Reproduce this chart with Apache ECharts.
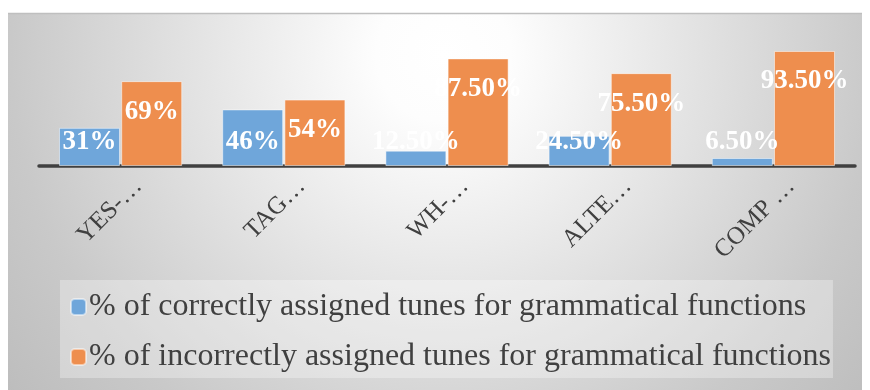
<!DOCTYPE html>
<html>
<head>
<meta charset="utf-8">
<script src="https://cdn.jsdelivr.net/npm/echarts@6/dist/echarts.min.js"></script>
<style>
  html, body { margin: 0; padding: 0; background: #ffffff; }
  #chart { width: 870px; height: 390px; }
</style>
</head>
<body>
<div id="chart"></div>
<script>
// Question types (labels as shown on the axis)
const categories = ['YES-…', 'TAG…', 'WH-…', 'ALTE…', 'COMP …'];

// Percentages per question type
const correctValues = [31, 46, 12.5, 24.5, 6.5];
const incorrectValues = [69, 54, 87.5, 75.5, 93.5];

const seriesNames = [
  '% of correctly assigned tunes for grammatical functions',
  '% of incorrectly assigned tunes for grammatical functions'
];

const SERIF = '"Liberation Serif", "Times New Roman", serif';

function pct(v) {
  return (Number.isInteger(v) ? String(v) : v.toFixed(2)) + '%';
}

const chart = echarts.init(document.getElementById('chart'), null, { renderer: 'canvas' });

const labelBase = {
  show: true,
  color: '#ffffff',
  fontFamily: SERIF,
  fontWeight: 'bold',
  fontSize: 27,
  formatter: p => pct(p.value)
};

chart.setOption({
  animation: false,
  backgroundColor: '#ffffff',
  graphic: [
    {
      type: 'rect',
      z: -10,
      silent: true,
      shape: { x: 8, y: 13, width: 854, height: 377 },
      style: {
        fill: new echarts.graphic.RadialGradient(0.51, 0.11, 1.49, [
          { offset: 0, color: '#ffffff' },
          { offset: 0.12, color: '#fdfdfd' },
          { offset: 0.77, color: '#c9c9c9' },
          { offset: 1, color: '#bcbcbc' }
        ])
      }
    },
    {
      type: 'line',
      z: -9,
      silent: true,
      shape: { x1: 8, y1: 13.5, x2: 862, y2: 13.5 },
      style: { stroke: '#bfbfbf', lineWidth: 1.5 }
    }
  ],
  grid: { left: 39, right: 15, top: 43, bottom: 224, containLabel: false },
  xAxis: {
    type: 'category',
    data: categories,
    offset: 1.75,
    axisLine: { show: true, lineStyle: { color: '#404040', width: 3.5 } },
    axisTick: { show: false },
    axisLabel: {
      rotate: 45,
      interval: 0,
      margin: -3,
      align: 'right',
      verticalAlign: 'top',
      lineHeight: 50,
      color: '#404040',
      fontFamily: SERIF,
      fontSize: 25
    }
  },
  yAxis: {
    type: 'value',
    min: 0,
    max: 100,
    show: false,
    splitLine: { show: false }
  },
  legend: {
    orient: 'vertical',
    left: 60,
    top: 280,
    padding: [11, 2, 5, 10],
    backgroundColor: 'rgba(255,255,255,0.3)',
    itemWidth: 15,
    itemHeight: 16,
    itemGap: 18,
    textStyle: { color: '#404040', fontFamily: SERIF, fontSize: 32, padding: [0, 0, 0, -2] },
    data: seriesNames
  },
  series: [
    {
      name: seriesNames[0],
      type: 'bar',
      data: correctValues,
      barWidth: 61,
      barGap: '2%',
      itemStyle: { color: '#6fa6da', borderColor: 'rgba(255,255,255,0.5)', borderWidth: 1 },
      label: Object.assign({}, labelBase, { position: 'insideBottom', distance: 10 })
    },
    {
      name: seriesNames[1],
      type: 'bar',
      data: incorrectValues,
      barWidth: 61,
      barGap: '2%',
      itemStyle: { color: '#ee8e4e', borderColor: 'rgba(255,255,255,0.5)', borderWidth: 1 },
      label: Object.assign({}, labelBase, { position: 'insideTop', distance: 17 })
    }
  ]
});
</script>
</body>
</html>
